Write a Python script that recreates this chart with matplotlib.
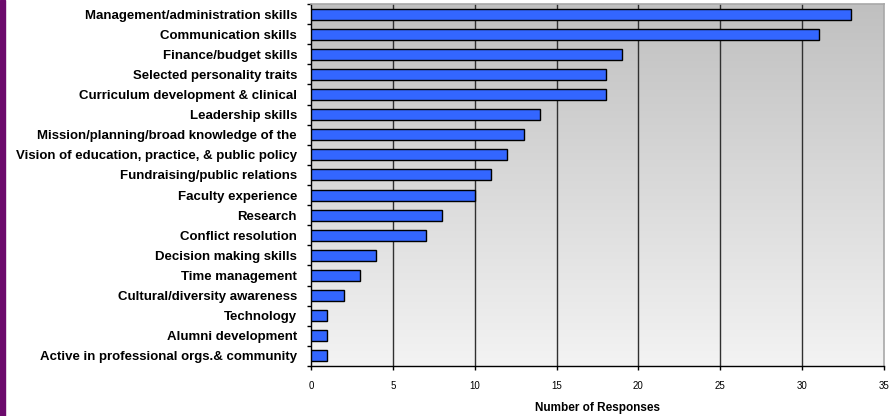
import numpy as np
import matplotlib.pyplot as plt
import matplotlib.patches as patches
from matplotlib.colors import LinearSegmentedColormap

plt.rcParams['font.family'] = ['Liberation Sans', 'DejaVu Sans']

# --- Data ---
skills = [
    'Management/administration skills',
    'Communication skills',
    'Finance/budget skills',
    'Selected personality traits',
    'Curriculum development & clinical',
    'Leadership skills',
    'Mission/planning/broad knowledge of the',
    'Vision of education, practice, & public policy',
    'Fundraising/public relations',
    'Faculty experience',
    'Research',
    'Conflict resolution',
    'Decision making skills',
    'Time management',
    'Cultural/diversity awareness',
    'Technology',
    'Alumni development',
    'Active in professional orgs.& community',
]
responses = [33, 31, 19, 18, 18, 14, 13, 12, 11, 10, 8, 7, 4, 3, 2, 1, 1, 1]
x_ticks = [0, 5, 10, 15, 20, 25, 30, 35]

# --- Figure ---
fig = plt.figure(figsize=(8.94, 4.16), dpi=100)
fig.patch.set_facecolor('white')
# purple strip on the left edge
fig.add_artist(patches.Rectangle((0, 0), 5 / 894, 1, transform=fig.transFigure,
                                 color='#6c0a6c', zorder=10))

ax = fig.add_axes([311 / 894, 1 - 366 / 416, 573 / 894, 362 / 416])

n = len(skills)
ypos = np.arange(n)

# vertical gradient background: grey at top, almost white at bottom
grad = np.linspace(0, 1, 256).reshape(-1, 1)
ax.imshow(grad, extent=[0, 35, n - 0.5, -0.5], aspect='auto',
          cmap=LinearSegmentedColormap.from_list('bg', ['#c0c0c0', '#f3f3f3']),
          zorder=0)

ax.set_xlim(0, 35)
ax.set_ylim(n - 0.5, -0.5)

for xv in x_ticks[1:-1]:
    ax.axvline(xv, color='#303030', lw=1.0, zorder=1)

ax.barh(ypos, responses, height=0.55, color='#3366ff', edgecolor='black',
        linewidth=1.0, zorder=3)

# ticks and labels
ax.set_yticks(ypos)
ax.set_yticklabels(skills, fontsize=9.5, fontweight='bold')
ax.tick_params(axis='y', which='major', length=0, pad=10)
ax.set_yticks(np.arange(-0.5, n, 1), minor=True)
ax.tick_params(axis='y', which='minor', length=3, width=1, color='black')

ax.set_xticks(x_ticks)
ax.set_xticklabels([str(v) for v in x_ticks], fontsize=7)
ax.tick_params(axis='x', length=3, width=1, pad=8)
ax.set_xlabel('Number of Responses', fontsize=8.5, fontweight='bold',
              labelpad=8)

for side in ['top', 'right']:
    ax.spines[side].set_color('#a8a8a8')
    ax.spines[side].set_linewidth(1.2)
for side in ['left', 'bottom']:
    ax.spines[side].set_color('black')
    ax.spines[side].set_linewidth(1.0)

fig.savefig('out.png', dpi=100)
